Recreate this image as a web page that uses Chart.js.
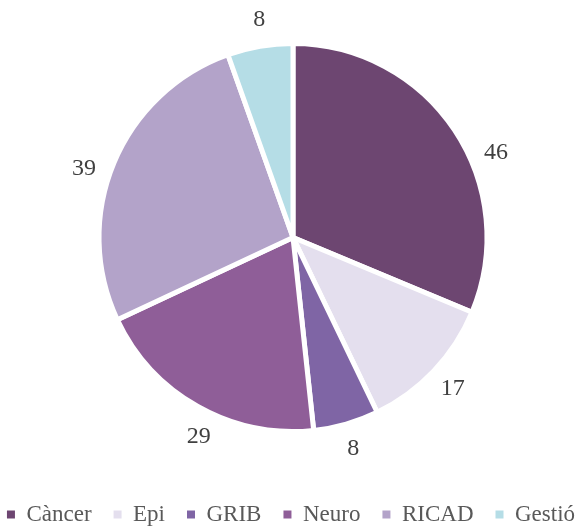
<!DOCTYPE html>
<html>
<head>
<meta charset="utf-8">
<script src="https://cdn.jsdelivr.net/npm/chart.js@4.4.1/dist/chart.umd.min.js"></script>
<style>
  html, body { margin: 0; padding: 0; background: #fff; }
  #wrap { width: 586px; height: 531px; }
</style>
</head>
<body>
<div id="wrap"><canvas id="pieChart"></canvas></div>
<script>
const categories = ['Càncer', 'Epi', 'GRIB', 'Neuro', 'RICAD', 'Gestió'];
const values = [46, 17, 8, 29, 39, 8];
const colors = ['#6d4671', '#e4dfee', '#7f65a5', '#8f5e98', '#b3a3c9', '#b5dde6'];
// petit gir (graus) de cada etiqueta respecte al centre de la porció
const labelNudge = [11, 0, 0, -4, -4.5, 1];

const fontFamily = "'Liberation Serif', 'DejaVu Serif', serif";

// etiquetes fora de cada porció
const outsideLabels = {
    id: 'outsideLabels',
    afterDatasetsDraw(chart) {
        const ctx = chart.ctx;
        const meta = chart.getDatasetMeta(0);
        ctx.save();
        ctx.font = '24px ' + fontFamily;
        ctx.fillStyle = '#404040';
        ctx.textAlign = 'center';
        ctx.textBaseline = 'middle';
        meta.data.forEach(function (arc, i) {
            const p = arc.getProps(['x', 'y', 'startAngle', 'endAngle', 'outerRadius'], true);
            const mid = (p.startAngle + p.endAngle) / 2 + labelNudge[i] * Math.PI / 180;
            const r = p.outerRadius + 26;
            ctx.fillText(String(values[i]), p.x + Math.cos(mid) * r, p.y + Math.sin(mid) * r);
        });
        ctx.restore();
    }
};

const ctx = document.getElementById('pieChart').getContext('2d');
new Chart(ctx, {
    type: 'pie',
    data: {
        labels: categories,
        datasets: [{
            data: values,
            backgroundColor: colors,
            borderColor: '#ffffff',
            borderWidth: 5,
            radius: 194
        }]
    },
    options: {
        responsive: true,
        maintainAspectRatio: false,
        animation: false,
        layout: {
            padding: { top: 0, bottom: -5, left: -20, right: -16 }
        },
        plugins: {
            tooltip: { enabled: false },
            legend: {
                position: 'bottom',
                // títol buit: només serveix per deixar espai sobre la llegenda
                title: { display: true, text: ' ', font: { size: 6, lineHeight: 1 }, padding: 0 },
                labels: {
                    boxWidth: 8,
                    boxHeight: 8,
                    padding: 22,
                    color: '#595959',
                    font: { family: fontFamily, size: 23 },
                    generateLabels(chart) {
                        const items = Chart.overrides.pie.plugins.legend.labels.generateLabels(chart);
                        items.forEach(function (it) { it.lineWidth = 0; });
                        return items;
                    }
                }
            }
        }
    },
    plugins: [outsideLabels]
});
</script>
</body>
</html>
